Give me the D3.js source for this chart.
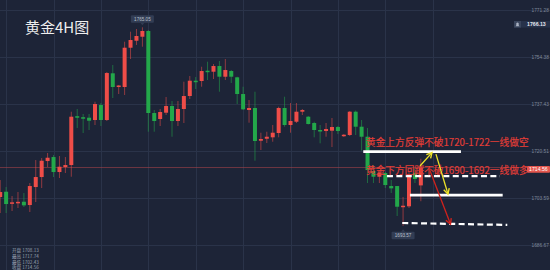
<!DOCTYPE html>
<html><head><meta charset="utf-8">
<script src="https://cdn.jsdelivr.net/npm/d3@7"></script>
<style>html,body{margin:0;padding:0;background:#1d2437;overflow:hidden}</style>
</head><body><svg id="c" width="550" height="270"></svg>
<script>
// ---- data ----
const opens = [1703.94,1705.85,1701.71,1701.96,1702.25,1701.06,1707.54,1711.14,1716.90,1718.34,1712.94,1714.74,1715.46,1733.04,1732.68,1732.50,1731.67,1737.07,1731.67,1748.49,1743.73,1743.55,1757.70,1760.22,1761.66,1763.72,1734.19,1732.03,1734.30,1736.71,1731.31,1735.63,1740.31,1745.82,1745.71,1749.42,1749.06,1751.11,1747.26,1749.31,1747.04,1741.03,1735.27,1735.99,1724.21,1724.93,1725.44,1726.99,1735.99,1729.87,1731.06,1734.66,1732.86,1730.59,1728.07,1727.71,1727.82,1729.15,1726.01,1726.27,1734.66,1729.26,1725.65,1713.30,1711.25,1712.58,1707.90,1707.90,1700.45,1700.60,1712.58,1708.13];
const highs = [1710.06,1707.54,1704.30,1705.74,1705.38,1708.98,1717.26,1717.98,1719.79,1719.06,1718.70,1718.34,1734.66,1735.63,1733.83,1733.83,1738.26,1737.79,1748.95,1751.47,1744.27,1759.86,1763.47,1764.44,1765.05,1764.08,1735.27,1735.63,1739.95,1738.51,1738.51,1745.46,1747.51,1747.15,1750.86,1752.66,1751.83,1752.91,1753.63,1749.67,1747.26,1743.66,1738.87,1741.86,1727.10,1727.46,1729.87,1736.46,1740.06,1737.79,1737.79,1735.63,1733.11,1731.06,1729.87,1730.59,1732.39,1729.51,1726.63,1734.91,1735.09,1731.67,1728.79,1715.46,1713.66,1713.05,1710.06,1707.90,1703.94,1713.05,1714.38,1717.74];
const lows = [1698.18,1698.18,1698.90,1699.98,1700.34,1698.54,1702.14,1707.18,1714.74,1711.14,1710.78,1712.58,1711.25,1728.79,1726.99,1728.07,1729.87,1729.51,1731.31,1739.59,1741.03,1740.67,1753.63,1758.68,1758.06,1727.46,1727.46,1729.51,1733.47,1725.65,1729.51,1730.59,1739.23,1742.83,1743.66,1746.07,1746.43,1741.86,1746.07,1744.99,1737.43,1735.27,1730.70,1717.01,1720.87,1723.39,1723.85,1725.44,1729.26,1727.10,1730.59,1733.47,1730.05,1725.44,1723.28,1725.65,1721.95,1726.63,1725.55,1725.91,1726.27,1720.61,1708.98,1708.98,1708.98,1707.18,1705.38,1697.10,1693.57,1699.98,1708.98,1702.43];
const closes = [1705.74,1701.42,1702.03,1702.21,1700.95,1707.90,1711.14,1717.01,1718.09,1712.94,1714.85,1715.46,1732.86,1732.68,1732.32,1731.42,1737.43,1731.67,1748.59,1743.55,1744.09,1757.70,1760.48,1761.92,1763.72,1734.19,1731.31,1734.55,1736.71,1731.31,1735.63,1740.31,1745.82,1745.46,1749.31,1749.06,1751.11,1747.26,1749.67,1747.26,1741.03,1735.52,1735.99,1724.11,1724.83,1725.65,1727.10,1735.99,1729.87,1731.31,1734.66,1735.27,1730.23,1728.07,1727.53,1728.43,1729.15,1727.71,1726.37,1734.66,1729.26,1725.65,1713.66,1711.25,1712.69,1708.26,1707.07,1700.45,1700.81,1711.25,1710.42,1714.56];
const axisTicks = [1771.28,1754.38,1737.43,1720.51,1703.59,1686.67];
const gridIdx = [1,9,17,25,33,41,49,57,65,73];
const lastPrice = 1714.56;
const markerPrice = 1766.13;
const highMarkIdx = 24, highMarkPrice = 1765.05;
const lowMarkIdx = 68, lowMarkPrice = 1693.57;
const ohlcLabels = ["开盘","最高","最低","收盘"];
const ohlcValues = [1708.13,1717.74,1702.43,1714.56];
const title = "黄金4H图";
const noteTexts = ["黄金上方反弹不破1720-1722一线做空","黄金下方回踩不破1690-1692一线做多"];
const noteIdx = [61.74, 61.74];
const notePrices = [1722.49, 1712.40];
// level lines: [startIdx, endIdx, startPrice, endPrice, dashed]
const levelStart = [61.28, 65.28, 69.16, 67.86];
const levelEnd   = [77.77, 84.35, 84.81, 85.59];
const levelP0    = [1720.30, 1711.50, 1704.66, 1694.60];
const levelP1    = [1720.30, 1711.50, 1704.66, 1693.90];
const levelDashed= [false, true, false, true];
// arrows: from (idx, price) to (idx, price)
const arrowFromIdx = [70.85, 73.55, 72.37];
const arrowFromP   = [1715.10, 1719.40, 1714.40];
const arrowToIdx   = [72.88, 75.58, 76.00];
const arrowToP     = [1719.95, 1705.02, 1694.20];
const arrowKind    = ["yellow","yellow","red"];

// ---- drawing ----
const W = 550, H = 270;
const svg = d3.select("#c");
const N = opens.length;
const x = d3.scaleLinear().domain([0, 69]).range([0.2, 409]);
const y = d3.scaleLinear().domain([1686.67, 1771.28]).range([245, 10]);
const RED = "#ef4d48", GREEN = "#23a84a";
const FONT = "'Noto Sans CJK SC','Noto Sans',sans-serif";

svg.append("rect").attr("width", W).attr("height", H).attr("fill", "#1d2437");

// grid
svg.append("g").selectAll("line").data(axisTicks).join("line")
  .attr("x1", 0).attr("x2", W)
  .attr("y1", d => Math.round(y(d)) + 0.5).attr("y2", d => Math.round(y(d)) + 0.5)
  .attr("stroke", "#2a3349").attr("stroke-width", 1);
svg.append("g").selectAll("line").data(gridIdx).join("line")
  .attr("x1", d => Math.round(x(d)) + 0.5).attr("x2", d => Math.round(x(d)) + 0.5)
  .attr("y1", 0).attr("y2", H)
  .attr("stroke", "#2a3349").attr("stroke-width", 1);

// current price line
svg.append("line").attr("x1", 0).attr("x2", W)
  .attr("y1", y(lastPrice)).attr("y2", y(lastPrice))
  .attr("stroke", "#a8434a").attr("stroke-opacity", 0.75).attr("stroke-width", 0.8);

// candles
const idx = d3.range(N);
const col = i => closes[i] >= opens[i] ? RED : GREEN;
svg.append("g").selectAll("line").data(idx).join("line")
  .attr("x1", i => x(i)).attr("x2", i => x(i))
  .attr("y1", i => y(highs[i])).attr("y2", i => y(lows[i]))
  .attr("stroke", col).attr("stroke-opacity", 0.55).attr("stroke-width", 1);
const bw = 4;
svg.append("g").selectAll("rect").data(idx).join("rect")
  .attr("x", i => x(i) - bw / 2).attr("width", bw)
  .attr("y", i => y(Math.max(opens[i], closes[i])))
  .attr("height", i => Math.max(1.5, Math.abs(y(opens[i]) - y(closes[i]))))
  .attr("fill", col);

// title
svg.append("text").attr("x", 25).attr("y", 33).text(title)
  .attr("font-family", FONT).attr("font-size", 15).attr("fill", "#eeeeee");

// high / low markers
function markBox(cx, cyTop, txt, pointerUp) {
  const g = svg.append("g");
  g.append("rect").attr("x", cx - 11.5).attr("y", cyTop).attr("width", 23).attr("height", 7.5)
    .attr("rx", 1).attr("fill", "#323d54");
  const tri = pointerUp
    ? [[cx - 2, cyTop], [cx + 2, cyTop], [cx, cyTop - 2.5]]
    : [[cx - 2, cyTop + 7.5], [cx + 2, cyTop + 7.5], [cx, cyTop + 10]];
  g.append("path").attr("d", d3.line()(tri) + "Z").attr("fill", "#323d54");
  g.append("text").attr("x", cx).attr("y", cyTop + 5.5).attr("text-anchor", "middle")
    .attr("font-family", "'Liberation Sans',Arial,sans-serif").attr("font-size", 4.6)
    .attr("fill", "#b9c0cc").text(txt);
}
markBox(x(highMarkIdx), y(highMarkPrice) - 12, highMarkPrice.toFixed(2), false);
markBox(x(lowMarkIdx), y(lowMarkPrice) + 6, lowMarkPrice.toFixed(2), true);

// level lines
svg.append("g").selectAll("line").data(d3.range(levelStart.length)).join("line")
  .attr("x1", i => x(levelStart[i])).attr("x2", i => x(levelEnd[i]))
  .attr("y1", i => y(levelP0[i])).attr("y2", i => y(levelP1[i]))
  .attr("stroke", "#ffffff")
  .attr("stroke-width", i => levelDashed[i] ? 2.2 : 2.8)
  .attr("stroke-dasharray", i => levelDashed[i] ? "6,3.4" : null);

// notes
svg.append("g").selectAll("text").data(noteTexts).join("text")
  .attr("x", (d, i) => x(noteIdx[i])).attr("y", (d, i) => y(notePrices[i]))
  .attr("font-family", FONT).attr("font-size", 9.7).attr("fill", "#e53e36")
  .attr("stroke", "#e53e36").attr("stroke-width", 0.15)
  .text(d => d);

// arrows
const arrowColor = k => k === "yellow" ? "#ece22a" : "#cf221d";
d3.range(arrowKind.length).forEach(i => {
  const x1 = x(arrowFromIdx[i]), y1 = y(arrowFromP[i]);
  const x2 = x(arrowToIdx[i]), y2 = y(arrowToP[i]);
  const c = arrowColor(arrowKind[i]);
  svg.append("line").attr("x1", x1).attr("y1", y1).attr("x2", x2).attr("y2", y2)
    .attr("stroke", c).attr("stroke-width", 1.3);
  const a = Math.atan2(y2 - y1, x2 - x1), L = 6, s = 0.5;
  const p1 = [x2 - L * Math.cos(a - s), y2 - L * Math.sin(a - s)];
  const p2 = [x2 - L * Math.cos(a + s), y2 - L * Math.sin(a + s)];
  svg.append("path").attr("d", d3.line()([p1, [x2, y2], p2]))
    .attr("fill", "none").attr("stroke", c).attr("stroke-width", 1.4);
});

// right axis
const axis = d3.axisRight(y).tickValues(axisTicks).tickSize(0).tickPadding(0)
  .tickFormat(d3.format(".2f"));
const ag = svg.append("g").attr("transform", "translate(531.5,0)").call(axis);
ag.select(".domain").remove();
ag.selectAll("text").attr("fill", "#7f889a").attr("font-size", 4.8)
  .attr("font-family", "'Liberation Sans',Arial,sans-serif");

// marker price box
const my = y(markerPrice);
svg.append("rect").attr("x", 514).attr("y", my - 3.3).attr("width", 36).attr("height", 6.6).attr("fill", "#27324a");
svg.append("rect").attr("x", 514).attr("y", my - 3.3).attr("width", 7).attr("height", 6.6).attr("fill", "#3a455c");
svg.append("path").attr("d", `M${515.5},${my + 2} L${519.5},${my + 2} L${518.7},${my + 1} L${518.7},${my - 1} Q${517.5},${my - 2.6} ${516.3},${my - 1} L${516.3},${my + 1} Z`)
  .attr("fill", "#aab2c2");
svg.append("text").attr("x", 527).attr("y", my + 1.8).text(markerPrice.toFixed(2))
  .attr("font-family", "'Liberation Sans',Arial,sans-serif").attr("font-size", 5.2)
  .attr("font-weight", "bold").attr("fill", "#e6e9ef");

// last price box
const ly = y(lastPrice);
svg.append("rect").attr("x", 527).attr("y", ly - 1.5).attr("width", 23).attr("height", 6.6)
  .attr("rx", 1).attr("fill", "#e4564e");
svg.append("text").attr("x", 529).attr("y", ly + 3.6).text(lastPrice.toFixed(2))
  .attr("font-family", "'Liberation Sans',Arial,sans-serif").attr("font-size", 5.2)
  .attr("fill", "#ffffff");

// OHLC legend
svg.append("g").selectAll("text").data(ohlcLabels).join("text")
  .attr("x", 12).attr("y", (d, i) => 252.4 + i * 5.6)
  .attr("font-family", FONT).attr("font-size", 4.6).attr("fill", "#9aa2b2")
  .text((d, i) => d + " " + ohlcValues[i].toFixed(2));
</script></body></html>
